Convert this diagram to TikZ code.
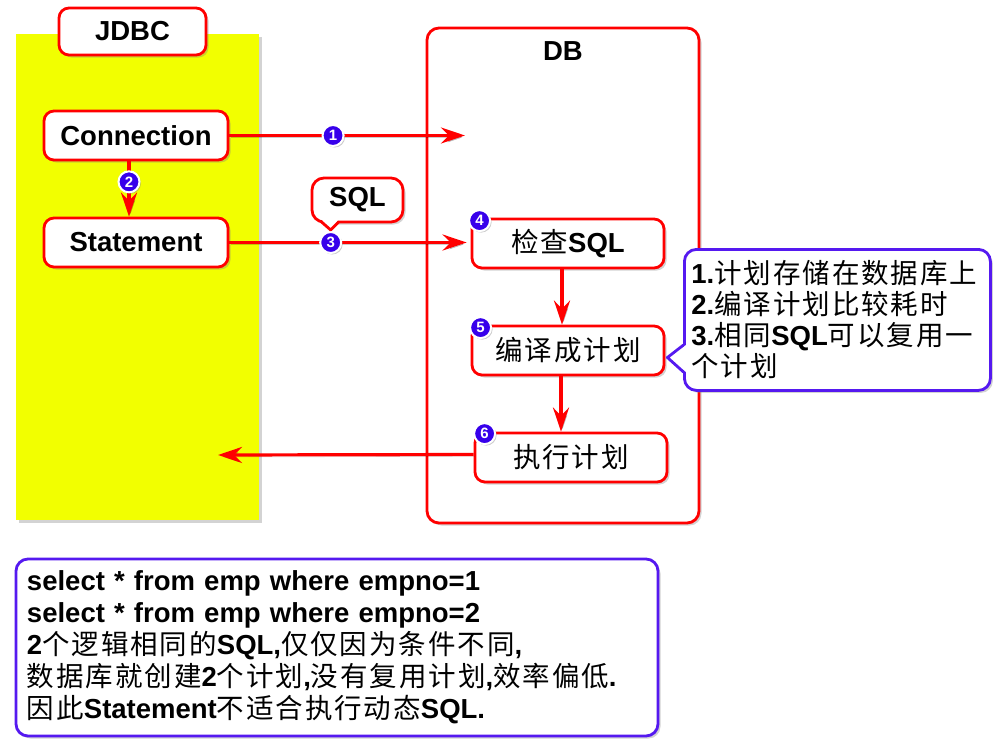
\documentclass[tikz,border=0pt]{standalone}
\usepackage{fontspec}
\setmainfont{Liberation Sans}
\newfontfamily\cjk{Noto Sans CJK SC}[LetterSpace=7]
\usetikzlibrary{arrows.meta, shadows, positioning}

\definecolor{jdbcyellow}{RGB}{242,255,0}
\definecolor{notebl}{RGB}{85,25,240}
\definecolor{numbl}{RGB}{55,0,235}
\newcommand\zh[1]{{\cjk\mdseries #1}}

\begin{document}
\begin{tikzpicture}[x=1pt, y=-1pt, node distance=107pt,
 font=\fontsize{27.5}{32}\selectfont\bfseries,
 softshadow/.style={drop shadow={shadow xshift=2.5pt, shadow yshift=-2.5pt, opacity=.35}},
 box/.style={draw=red, line width=2.8pt, fill=white, rounded corners=10pt,
   minimum width=184pt, minimum height=49pt, inner sep=0pt, softshadow},
 stepbox/.style={box, minimum width=192pt},
 note/.style={draw=notebl, line width=2.8pt, fill=white, rounded corners=12pt, softshadow},
 num/.style={circle, draw=white, line width=2pt, fill=numbl, text=white,
   minimum size=21pt, inner sep=0pt, font=\fontsize{15}{15}\selectfont\bfseries,
   drop shadow={shadow xshift=1.5pt, shadow yshift=-1.5pt, opacity=.4}},
 flow/.style={draw=red, line width=3.2pt, -{Stealth[length=24pt, width=16pt, inset=8pt]},
   preaction={draw=black, opacity=.2, transform canvas={shift={(1.5pt,-2pt)}}}}]

  \useasboundingbox (0,0) rectangle (997,742);

  \node[fill=jdbcyellow, minimum width=243pt, minimum height=486pt, softshadow] (jdbcarea) at (137.5,277) {};
  \node[box, minimum width=272pt, minimum height=495pt, rounded corners=12pt] (db) at (563,275.5) {};
  \node (dbtitle) at ([yshift=-24pt]db.north) {DB};
  \node[box, minimum width=147pt, minimum height=47pt] (jdbc) at (132.5,31.5) {JDBC};

  \node[box] (conn) at (136,135.5) {Connection};
  \node[box] (stmt) [below of=conn] {Statement};
  \node[stepbox] (chk) at (568,243.5) {\zh{检查}SQL};
  \node[stepbox] (cmp) [below of=chk] {\zh{编译成计划}};
  \node[stepbox] (exe) [below of=cmp, xshift=3pt] {\zh{执行计划}};

  \coordinate (dbin) at (465,135.5);
  \coordinate (back) at (218,455);

  \draw[flow] (conn) -- (dbin) node[num, pos=.44] (n1) {1};
  \draw[flow] ([xshift=-7pt]conn.south) -- ([xshift=-7pt]stmt.north) node[num, pos=.37] (n2) {2};
  \draw[flow, shorten >=4pt] (stmt.east) -- (stmt.east -| chk.west) node[num, pos=.42] (n3) {3};

  % SQL callout
  \node[note, draw=red, minimum width=91pt, minimum height=44pt, inner sep=0pt] (sqlnote) at (357.5,200) {SQL};
  \coordinate (sqltip) at ([yshift=1pt]n3.north);
  \fill[white] (321,219) -- (sqltip) -- (339,219) -- cycle;
  \draw[red, line width=2.8pt, line join=round] (321,221.5) -- (sqltip) -- (339,221.5);

  \draw[flow] ([xshift=-6pt]chk.south) -- ([xshift=-6pt]cmp.north);
  \draw[flow] ([xshift=-7pt]cmp.south) -- ([xshift=-7pt]cmp.south |- exe.north);
  \draw[flow] ([yshift=3pt]exe.west) -- (back);

  \node[num] (n4) at ([shift={(9pt,-3pt)}]chk.north west) {4};
  \node[num] (n5) at ([shift={(10pt,-3pt)}]cmp.north west) {5};
  \node[num] (n6) at ([shift={(11pt,-2pt)}]exe.north west) {6};

  % notes
  \node[note, minimum width=306pt, minimum height=141pt, text width=292pt, inner xsep=7pt,
    align=left, anchor=north west, font=\fontsize{27.5}{31}\selectfont\bfseries] (memo) at (683,248)
    {1.\zh{计划存储在数据库上}\\2.\zh{编译计划比较耗时}\\3.\zh{相同}SQL\zh{可以复用一}\\\zh{个计划}};
  \coordinate (memotip) at ([shift={(2pt,-7pt)}]cmp.east);
  \fill[white] (686,345) -- (memotip) -- (686,372) -- cycle;
  \draw[notebl, line width=2.8pt, line join=round] (683.5,345) -- (memotip) -- (683.5,372);

  \node[note, minimum width=642pt, minimum height=177pt, text width=620pt, inner xsep=11pt,
    align=left] (sample) at (337,647.5)
    {select * from emp where empno=1\\
     select * from emp where empno=2\\
     2\zh{个逻辑相同的}SQL,\zh{仅仅因为条件不同},\\
     \zh{数据库就创建}2\zh{个计划},\zh{没有复用计划},\zh{效率偏低}.\\
     \zh{因此}Statement\zh{不适合执行动态}SQL.};
\end{tikzpicture}
\end{document}
